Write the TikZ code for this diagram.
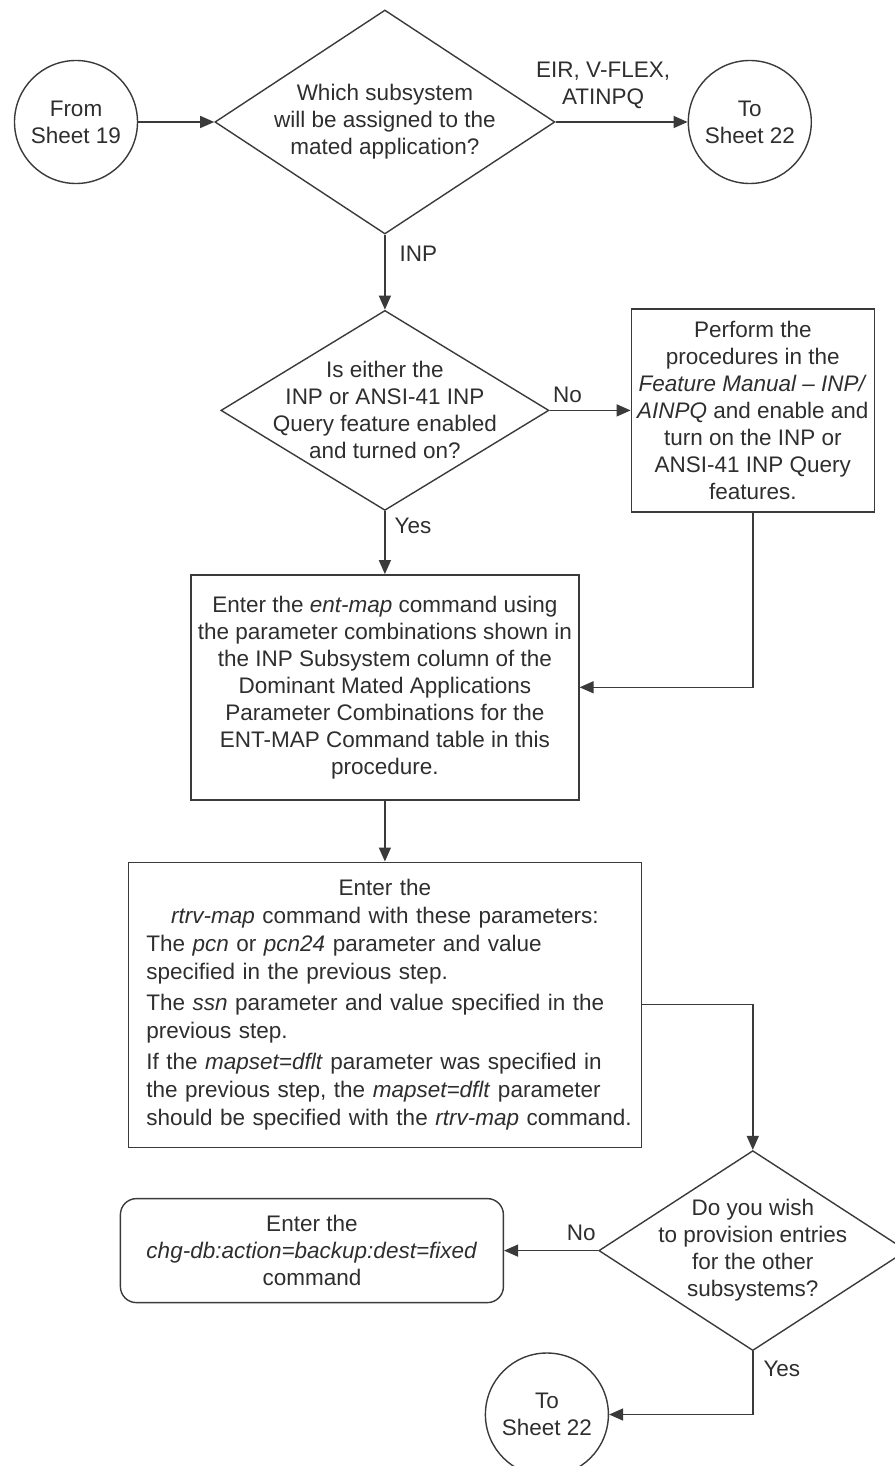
\documentclass[tikz,border=0pt]{standalone}
\usepackage{fontspec}
\setmainfont{Liberation Sans}
\usepackage{tikz}
\usetikzlibrary{arrows.meta,positioning,shapes.geometric}

\definecolor{ink}{HTML}{3A3A3A}

\begin{document}
\begin{tikzpicture}[
  font=\fontsize{22.5pt}{27pt}\selectfont,
  >={Triangle[length=14pt, width=12pt]},
  every node/.style={align=center, text=black!82},
  line/.style={draw=ink, line width=1.4pt},
  conn/.style={circle, draw=ink, line width=1.4pt, minimum size=123pt, inner sep=0pt},
  decision/.style={diamond, draw=ink, line width=1.4pt, inner sep=0pt},
  proc/.style={draw=ink, line width=1.4pt, inner sep=0pt},
  term/.style={proc, rounded corners=16pt},
  lbl/.style={inner sep=3pt},
]
  \useasboundingbox (-76pt,122pt) rectangle (818pt,-1344pt);

  \node[conn] (from19) {From\\Sheet 19};
  \node[decision, right=76pt of from19, minimum width=340pt, minimum height=224pt,
        aspect=1.52] (subsys)
       {Which subsystem\\will be assigned to the\\mated application?};
  \node[conn, right=132pt of subsys] (to22a) {To\\Sheet 22};

  \node[decision, below=75pt of subsys, minimum width=328pt, minimum height=200pt,
        aspect=1.64, inner xsep=-35pt] (inpon)
       {Is either the\\INP or ANSI-41 INP\\Query feature enabled\\and turned on?};
  \node[proc, right=81pt of inpon, minimum width=243pt, minimum height=203pt] (perform)
       {Perform the\\procedures in the\\\textit{Feature Manual \textendash\ INP/}\\
        \textit{AINPQ} and enable and\\turn on the INP or\\ANSI-41 INP Query\\features.};

  \node[proc, below=63pt of inpon, minimum width=388pt, minimum height=225pt] (entmap)
       {Enter the \textit{ent-map} command using\\the parameter combinations shown in\\
        the INP Subsystem column of the\\Dominant Mated Applications\\
        Parameter Combinations for the\\ENT-MAP Command table in this\\procedure.};

  \node[proc, below=61pt of entmap, minimum width=513pt, minimum height=285pt,
        text width=499pt, inner xsep=7pt, align=left,
        font=\fontsize{22.5pt}{28pt}\selectfont] (rtrvmap)
       {\hyphenpenalty=10000
        {\centering Enter the\\\textit{rtrv-map} command with these parameters:\par}
        \leftskip=11pt
        The \textit{pcn} or \textit{pcn24} parameter and value\\
        specified in the previous step.\\[3pt]
        The \textit{ssn} parameter and value specified in the\\
        previous step.\\[3pt]
        If the \textit{mapset=dflt} parameter was specified in\\
        the previous step, the \textit{mapset=dflt} parameter\\
        should be specified with the \textit{rtrv-map} command.\par};

  % last question sits under the right-hand column
  \node[decision, anchor=north, minimum width=308pt, minimum height=200pt,
        aspect=1.54, inner xsep=-22pt] (other) at ([yshift=-2pt]rtrvmap.south -| perform)
       {Do you wish\\to provision entries\\for the other\\subsystems?};
  \node[term, left=94pt of other, minimum width=383pt, minimum height=104pt] (backup)
       {Enter the\\\textit{chg-db:action=backup:dest=fixed}\\command};
  \node[conn, anchor=north] (to22b) at ([xshift=235pt, yshift=-49pt]backup.south)
       {To\\Sheet 22};

  \draw[line, ->] (from19) -- (subsys);
  \draw[line, ->] (subsys) -- node[lbl, above=10pt, pos=0.36] {EIR, V-FLEX,\\ATINPQ} (to22a);
  \draw[line, ->] (subsys) -- node[lbl, right=11pt, pos=0.25] {INP} (inpon);
  \draw[line, ->] (inpon) -- node[lbl, above=4pt, pos=0.22] {No} (perform);
  \draw[line, ->] (inpon) -- node[lbl, right=6pt, pos=0.24] {Yes} (entmap);
  \draw[line, ->] (perform) |- (entmap);
  \draw[line, ->] (entmap) -- (rtrvmap);
  \draw[line, ->] (rtrvmap) -| (other);
  \draw[line, ->] (other) -- node[lbl, above=6pt, pos=0.18] {No} (backup);
  \draw[line, ->] (other) |- node[lbl, right=7pt, pos=0.14] {Yes} (to22b);
\end{tikzpicture}
\end{document}
